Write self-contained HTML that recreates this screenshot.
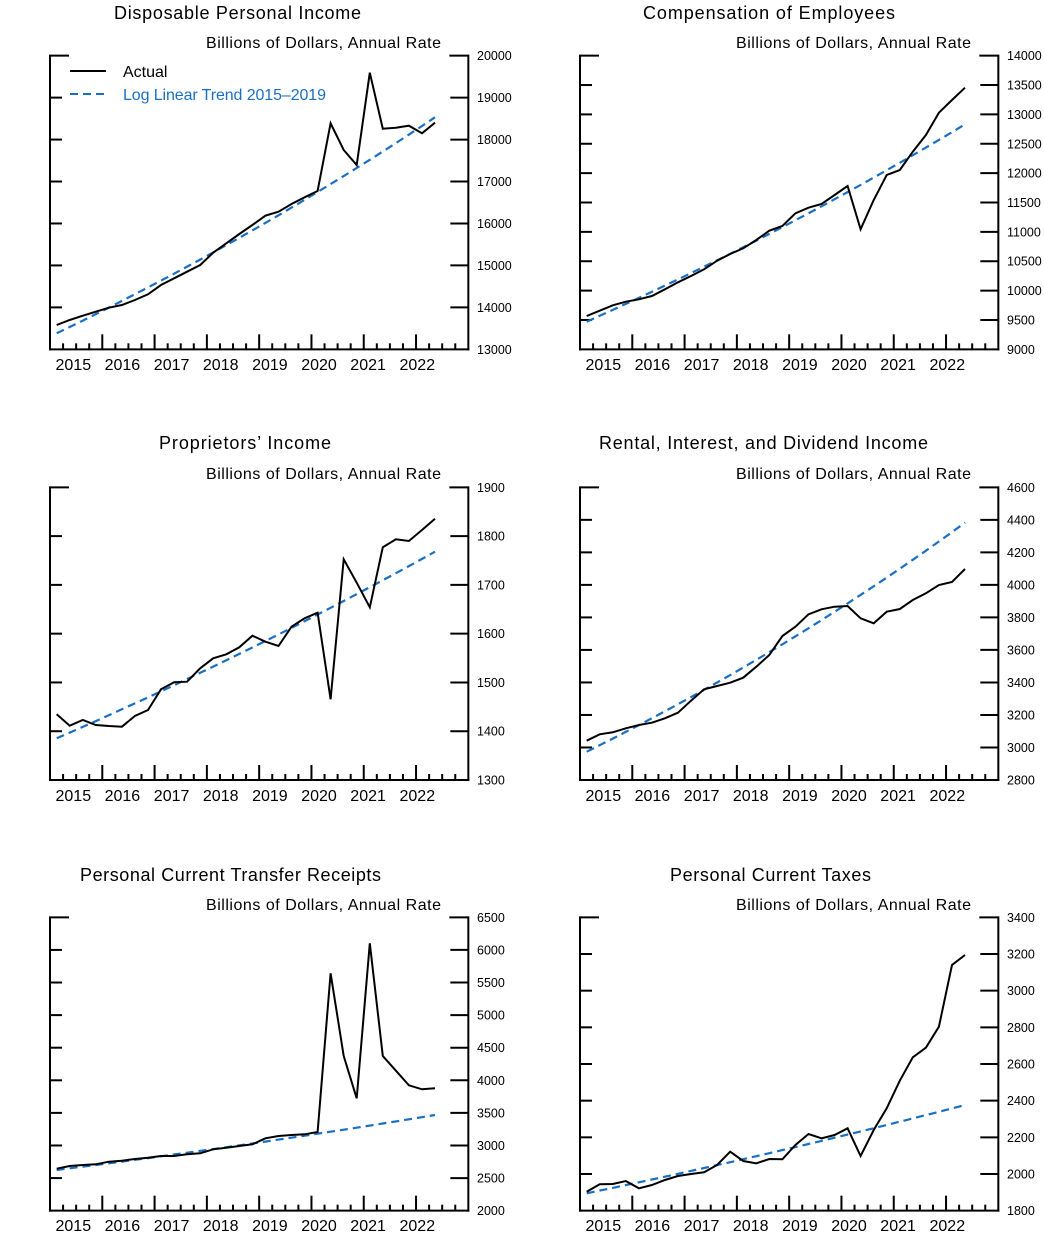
<!DOCTYPE html>
<html><head><meta charset="utf-8"><style>
body{margin:0;background:#fff}
svg{display:block}
text{font-family:"Liberation Sans",sans-serif;fill:#000}
.t{font-size:18px;text-anchor:middle}
.u{font-size:16px;text-anchor:end}
.r{font-size:12.5px}
.y{font-size:16px;text-anchor:middle}
</style></head><body>
<svg id="s" width="1044" height="1236" viewBox="0 0 1044 1236" xmlns="http://www.w3.org/2000/svg">
<g id="g"></g>
<text class="t" x="237.5" y="19" textLength="247">Disposable Personal Income</text>
<text class="t" x="769" y="19" textLength="252">Compensation of Employees</text>
<text class="t" x="245" y="449" textLength="172">Proprietors’ Income</text>
<text class="t" x="763.5" y="449" textLength="329">Rental, Interest, and Dividend Income</text>
<text class="t" x="230.5" y="881" textLength="301">Personal Current Transfer Receipts</text>
<text class="t" x="770.5" y="881" textLength="201">Personal Current Taxes</text>
<text class="u" x="441" y="48" textLength="235">Billions of Dollars, Annual Rate</text>
<text class="u" x="971" y="48" textLength="235">Billions of Dollars, Annual Rate</text>
<text class="u" x="441" y="479" textLength="235">Billions of Dollars, Annual Rate</text>
<text class="u" x="971" y="479" textLength="235">Billions of Dollars, Annual Rate</text>
<text class="u" x="441" y="910" textLength="235">Billions of Dollars, Annual Rate</text>
<text class="u" x="971" y="910" textLength="235">Billions of Dollars, Annual Rate</text>
<line x1="70" y1="71" x2="106" y2="71" stroke="#000" stroke-width="2"/>
<text x="123" y="77" style="font-size:16px">Actual</text>
<line x1="70" y1="94" x2="108" y2="94" stroke="#1a6fc4" stroke-width="2" stroke-dasharray="8,5"/>
<text x="123" y="100" style="font-size:16px;fill:#1a6fc4" textLength="203">Log Linear Trend 2015–2019</text>
<g class="r">
<text x="477" y="60">20000</text><text x="477" y="102">19000</text><text x="477" y="144">18000</text><text x="477" y="186">17000</text><text x="477" y="228">16000</text><text x="477" y="270">15000</text><text x="477" y="312">14000</text><text x="477" y="354">13000</text>
<text x="1007" y="60">14000</text><text x="1007" y="89.5">13500</text><text x="1007" y="119">13000</text><text x="1007" y="148.5">12500</text><text x="1007" y="177.5">12000</text><text x="1007" y="207">11500</text><text x="1007" y="236.5">11000</text><text x="1007" y="265.5">10500</text><text x="1007" y="295">10000</text><text x="1007" y="324.5">9500</text><text x="1007" y="354">9000</text>
<text x="477" y="492">1900</text><text x="477" y="540.5">1800</text><text x="477" y="589.5">1700</text><text x="477" y="638">1600</text><text x="477" y="687">1500</text><text x="477" y="735.5">1400</text><text x="477" y="784.5">1300</text>
<text x="1007" y="492">4600</text><text x="1007" y="524.5">4400</text><text x="1007" y="557">4200</text><text x="1007" y="589.5">4000</text><text x="1007" y="622">3800</text><text x="1007" y="654.5">3600</text><text x="1007" y="687">3400</text><text x="1007" y="719.5">3200</text><text x="1007" y="752">3000</text><text x="1007" y="784.5">2800</text>
<text x="477" y="922">6500</text><text x="477" y="954.5">6000</text><text x="477" y="987">5500</text><text x="477" y="1019.5">5000</text><text x="477" y="1052">4500</text><text x="477" y="1085">4000</text><text x="477" y="1117.5">3500</text><text x="477" y="1150">3000</text><text x="477" y="1182.5">2500</text><text x="477" y="1215">2000</text>
<text x="1007" y="922">3400</text><text x="1007" y="958.5">3200</text><text x="1007" y="995">3000</text><text x="1007" y="1032">2800</text><text x="1007" y="1068.5">2600</text><text x="1007" y="1105">2400</text><text x="1007" y="1142">2200</text><text x="1007" y="1178.5">2000</text><text x="1007" y="1215">1800</text>
</g>
<g class="y">
<text x="73.3" y="370">2015</text><text x="122.4" y="370">2016</text><text x="171.6" y="370">2017</text><text x="220.7" y="370">2018</text><text x="269.9" y="370">2019</text><text x="319" y="370">2020</text><text x="368.1" y="370">2021</text><text x="417.3" y="370">2022</text>
<text x="603.3" y="370">2015</text><text x="652.4" y="370">2016</text><text x="701.6" y="370">2017</text><text x="750.7" y="370">2018</text><text x="799.9" y="370">2019</text><text x="849" y="370">2020</text><text x="898.1" y="370">2021</text><text x="947.3" y="370">2022</text>
<text x="73.3" y="801">2015</text><text x="122.4" y="801">2016</text><text x="171.6" y="801">2017</text><text x="220.7" y="801">2018</text><text x="269.9" y="801">2019</text><text x="319" y="801">2020</text><text x="368.1" y="801">2021</text><text x="417.3" y="801">2022</text>
<text x="603.3" y="801">2015</text><text x="652.4" y="801">2016</text><text x="701.6" y="801">2017</text><text x="750.7" y="801">2018</text><text x="799.9" y="801">2019</text><text x="849" y="801">2020</text><text x="898.1" y="801">2021</text><text x="947.3" y="801">2022</text>
<text x="73.3" y="1231">2015</text><text x="122.4" y="1231">2016</text><text x="171.6" y="1231">2017</text><text x="220.7" y="1231">2018</text><text x="269.9" y="1231">2019</text><text x="319" y="1231">2020</text><text x="368.1" y="1231">2021</text><text x="417.3" y="1231">2022</text>
<text x="603.3" y="1231">2015</text><text x="652.4" y="1231">2016</text><text x="701.6" y="1231">2017</text><text x="750.7" y="1231">2018</text><text x="799.9" y="1231">2019</text><text x="849" y="1231">2020</text><text x="898.1" y="1231">2021</text><text x="947.3" y="1231">2022</text>
</g>
</svg>
<script>
var P=[
{ox:0,oy:30,top:77,bot:958,n:8,v0:13000,v1:20000,a:[885,870,857,845,833,825,810,793,765,745,725,705,668,640,612,585,557,545,522,502,483,280,360,405,128,296,293,287,310,278],t:[910,262]},
{ox:530,oy:30,top:77,bot:958,n:11,v0:9000,v1:14000,a:[858,842,826,815,808,798,778,757,738,718,692,672,655,630,602,588,550,533,522,495,468,598,510,435,420,365,315,248,210,173],t:[875,283]},
{ox:0,oy:430,top:172,bot:1050,n:7,v0:1300,v1:1900,a:[853,887,870,885,888,890,858,840,778,757,755,715,685,673,652,617,635,648,590,565,548,808,388,458,532,352,328,333,300,266],t:[925,365]},
{ox:530,oy:430,top:172,bot:1050,n:10,v0:2800,v1:4600,a:[932,913,907,895,885,878,865,848,812,778,768,758,743,710,675,618,590,553,538,530,528,565,580,545,537,510,490,465,456,417],t:[965,278]},
{ox:0,oy:860,top:172,bot:1052,n:10,v0:2000,v1:6500,a:[926,918,915,913,905,902,897,893,888,888,883,880,868,863,858,853,835,828,825,823,816,340,588,715,250,588,632,676,688,685],t:[930,765]},
{ox:530,oy:860,top:172,bot:1052,n:9,v0:1800,v1:3400,a:[995,973,972,963,985,975,960,948,942,937,915,875,903,910,897,898,855,822,835,825,805,888,810,745,662,592,563,500,315,285],t:[1000,735]}
];
var g=document.getElementById('g'),NS='http://www.w3.org/2000/svg';
function el(n,at){var e=document.createElementNS(NS,n);for(var k in at)e.setAttribute(k,at[k]);g.appendChild(e);return e;}
function ln(x1,y1,x2,y2,w){el('line',{x1:x1,y1:y1,x2:x2,y2:y2,stroke:'#000','stroke-width':w||2});}
P.forEach(function(p){
 var X=function(z){return p.ox+z/3},Y=function(z){return p.oy+z/3};
 var L=X(150),R=X(1405),T=Y(p.top),B=Y(p.bot);
 ln(L,T-1,L,B+1,2);ln(R,T-1,R,B+1,2);ln(L-1,B,R+1,B,2);
 ln(L,T,L+19,T,2);ln(R-19,T,R,T,2);
 for(var i=1;i<p.n-1;i++){var y=T+(B-T)*i/(p.n-1);ln(L,y,L+12,y,2);ln(R-18,y,R,y,2);}
 for(var k=1;k<32;k++){var x=L+(R-L)*k/32;ln(x,B,x,B-(k%4==0?15:6),2);}
 var pts=p.a.map(function(v,i){return X(170+39.14*i).toFixed(1)+','+Y(v).toFixed(1)}).join(' ');
 var zv=function(z){return p.v0+(p.bot-z)/(p.bot-p.top)*(p.v1-p.v0)};
 var vz=function(v){return p.bot-(v-p.v0)/(p.v1-p.v0)*(p.bot-p.top)};
 var a0=Math.log(zv(p.t[0])),a1=Math.log(zv(p.t[1]));
 var tp=[];for(var i=0;i<=29;i++){var f=i/29;var yz=vz(Math.exp(a0+(a1-a0)*f));tp.push(X(170+39.14*i).toFixed(1)+','+Y(yz).toFixed(1));}
 el('polyline',{points:tp.join(' '),fill:'none',stroke:'#1a6fc4','stroke-width':2.2,'stroke-dasharray':'8,5'});
 el('polyline',{points:pts,fill:'none',stroke:'#000','stroke-width':2,'stroke-linejoin':'miter'});
});
</script>
</body></html>
